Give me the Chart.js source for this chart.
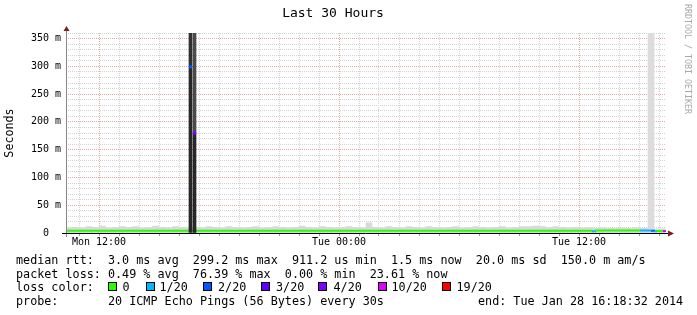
<!DOCTYPE html>
<html><head><meta charset="utf-8">
<script src="https://cdn.jsdelivr.net/npm/chart.js@4.4.1/dist/chart.umd.min.js"></script>
<style>
html,body{margin:0;padding:0;background:#fff;}
#wrap{position:relative;width:697px;height:315px;overflow:hidden;background:#fff;}
#c{position:absolute;left:0;top:0;}
.t{position:absolute;font-family:"DejaVu Sans Mono",monospace;font-size:11.75px;line-height:14px;white-space:pre;color:#000;}
.box{position:absolute;width:7px;height:7px;border:1px solid #000;top:282px;}
#wm{position:absolute;left:683px;top:4px;font-family:"DejaVu Sans Mono",monospace;font-size:8.3px;color:#a8a8a8;writing-mode:vertical-rl;white-space:pre;line-height:10px;}
</style></head>
<body>
<div id="wrap">
<canvas id="c" width="697" height="315"></canvas>
<div id="wm">RRDTOOL / TOBI OETIKER</div>
<div class="t" style="left:16px;top:253px">median rtt:  3.0 ms avg  299.2 ms max  911.2 us min  1.5 ms now  20.0 ms sd  150.0 m am/s</div>
<div class="t" style="left:16px;top:266.5px">packet loss: 0.49 % avg  76.39 % max  0.00 % min  23.61 % now</div>
<div class="t" style="left:16px;top:280px">loss color:</div>
<div id="lossLegend"></div>
<div class="t" style="left:16px;top:293.5px">probe:       20 ICMP Echo Pings (56 Bytes) every 30s</div>
<div class="t" style="left:478px;top:293.5px">end: Tue Jan 28 16:18:32 2014</div>
</div>
<script>
// ---- data (time in minutes since Mon 00:00, values in milliseconds) ----
const axisStartMin = 621;      // Mon 10:21
const axisEndMin = 2421;       // Tue 16:21
const xGridStepMin = 60;
const xMajorTicks = [720, 1440, 2160];
const xTickLabels = ['Mon 12:00', 'Tue 00:00', 'Tue 12:00'];
const yTickValues = [0, 50, 100, 150, 200, 250, 300, 350];
const yTickLabels = ['0  ', '50 m', '100 m', '150 m', '200 m', '250 m', '300 m', '350 m'];

// smoke (upper ping spread) per 20-minute bucket, starting Mon 10:20
const smokeBucketStart = 620;
const smokeBucketMin = 20;
const smokeTop = [
  9,10,11,10,12, 11,13,10,11,12,
  11,12,10,11,13, 11,10,12,11,10,
  11,10,12,11,10, 12,11,10,11,12,
  10,11,12,11,10, 11,13,11,10,12,
  11,10,11,12,11, 10,19,11,10,12,
  11,10,12,11,10, 12,11,10,11,12,
  10,11,12,11,10, 11,12,10,11,12,
  12,13,12,11,12, 11,10,11,10,11,
  9,10,9,9,10, 9,10,9,9,8
];

// median rtt change points
const medTimes  = [620, 2202, 2211, 2343, 2379, 2388, 2394, 2412, 2421];
const medValues = [3.0, 4.0,  3.0,  4.5,  4.5,  4.0,  3.0,  3.5,  3.5];
const medLoss   = [0,   1,    0,    1,    2,    1,    0,    5,    5];

// outage spikes (smoke reaching beyond the graph top)
const spikeTimes   = [994.5, 1006.5];
const spikeMedians = [299.2, 180];
const spikeMax     = [400, 400];
const spikeLoss    = [2, 4];

// light smoke column near the end
const bandTimes = [2376];
const bandMax   = [400];

const lossNames  = ['0', '1/20', '2/20', '3/20', '4/20', '10/20', '19/20'];
const lossColors = ['#26ff00', '#00b8ff', '#0059ff', '#5e00ff', '#7e00ff', '#dd00ff', '#ff0000'];

// ---- loss legend (HTML text) ----
const legendBoxX = [108, 145.5, 203, 261, 318, 377.5, 442];
const legendTextX = [122.5, 159.5, 218, 276, 333.5, 391.5, 456.5];
const ll = document.getElementById('lossLegend');
lossNames.forEach((n, i) => {
  const b = document.createElement('div');
  b.className = 'box'; b.style.left = legendBoxX[i] + 'px'; b.style.background = lossColors[i];
  ll.appendChild(b);
  const t = document.createElement('div');
  t.className = 't'; t.style.left = legendTextX[i] + 'px'; t.style.top = '280px'; t.textContent = n;
  ll.appendChild(t);
});

// ---- build datasets ----
const smokeData = smokeTop.map((v, i) => ({x: smokeBucketStart + i * smokeBucketMin, y: v}));
smokeData.push({x: smokeBucketStart + smokeTop.length * smokeBucketMin, y: smokeTop[smokeTop.length - 1]});
const medData = medTimes.map((t, i) => ({x: t, y: medValues[i]}));

const axisArrows = {
  id: 'axisArrows',
  afterDatasetsDraw(chart) {
    const {ctx, chartArea: a} = chart;
    ctx.save();
    ctx.lineWidth = 1;
    ctx.strokeStyle = '#888';
    ctx.beginPath(); ctx.moveTo(a.left + 0.5, a.bottom + 4); ctx.lineTo(a.left + 0.5, a.top - 4); ctx.stroke();
    ctx.strokeStyle = '#000';
    ctx.beginPath(); ctx.moveTo(a.left - 4, a.bottom + 0.5); ctx.lineTo(a.right + 3, a.bottom + 0.5); ctx.stroke();
    ctx.fillStyle = '#7f1d1d';
    ctx.beginPath(); ctx.moveTo(a.left + 0.5, a.top - 7); ctx.lineTo(a.left - 2.5, a.top - 2); ctx.lineTo(a.left + 3.5, a.top - 2); ctx.closePath(); ctx.fill();
    ctx.beginPath(); ctx.moveTo(a.right + 8, a.bottom + 0.5); ctx.lineTo(a.right + 2, a.bottom - 2.5); ctx.lineTo(a.right + 2, a.bottom + 3.5); ctx.closePath(); ctx.fill();
    ctx.restore();
  }
};

const minorGrid = '#d3d3d3';
const majorGrid = '#e8a6a6';

new Chart(document.getElementById('c'), {
  type: 'line',
  data: {
    datasets: [
      {type: 'line', data: smokeData, stepped: 'after', fill: 'origin', backgroundColor: '#d9d9d9',
       borderWidth: 0, pointRadius: 0, order: 6},
      {type: 'bar', data: bandTimes.map((t, i) => ({x: t, y: [0, bandMax[i]]})), backgroundColor: '#dcdcdc',
       barThickness: 6, grouped: false, borderWidth: 0, order: 5},
      {type: 'line', data: medData, stepped: 'after', borderWidth: 2, pointRadius: 0, fill: false,
       borderColor: lossColors[0], borderCapStyle: 'butt',
       segment: {borderColor: c => lossColors[medLoss[c.p0DataIndex]]}, order: 4},
      {type: 'bar', data: spikeTimes.map((t, i) => ({x: t, y: [0, spikeMedians[i]]})), backgroundColor: '#272727',
       barThickness: 3, grouped: false, borderWidth: 0, order: 3},
      {type: 'bar', data: spikeTimes.map((t, i) => ({x: t, y: [spikeMedians[i], spikeMax[i]]})),
       backgroundColor: ['#303030', '#4a4a4a'], barThickness: 3, grouped: false, borderWidth: 0, order: 2},
      {type: 'scatter', data: spikeTimes.map((t, i) => ({x: t, y: spikeMedians[i]})), showLine: false,
       pointStyle: 'rect', pointRadius: 2.2, borderWidth: 0,
       pointBackgroundColor: spikeLoss.map(l => lossColors[l]), order: 1}
    ]
  },
  options: {
    responsive: false, animation: false, devicePixelRatio: 1,
    layout: {padding: {left: 0, right: 31, top: 0, bottom: 62}},
    plugins: {
      legend: {display: false}, tooltip: {enabled: false},
      title: {display: true, text: 'Last 30 Hours', color: '#000',
              font: {family: 'DejaVu Sans Mono', size: 13, weight: 'normal'},
              padding: {top: 6, bottom: 11.4}}
    },
    scales: {
      x: {
        type: 'linear', min: axisStartMin, max: axisEndMin, offset: false,
        afterFit: s => { s.height = 20; },
        afterBuildTicks: s => {
          const ticks = [];
          for (let v = Math.ceil(s.min / xGridStepMin) * xGridStepMin; v <= s.max; v += xGridStepMin) ticks.push({value: v});
          s.ticks = ticks;
        },
        ticks: {autoSkip: false, maxRotation: 0, minRotation: 0, padding: 0,
                color: '#000', font: {family: 'DejaVu Sans Mono', size: 10},
                callback: v => { const k = xMajorTicks.indexOf(v); return k >= 0 ? xTickLabels[k] : ''; }},
        grid: {offset: false, drawTicks: true, tickLength: 3, tickColor: '#a0a0a0',
               color: c => xMajorTicks.includes(c.tick && c.tick.value) ? majorGrid : minorGrid},
        border: {display: false, dash: [1, 1]}
      },
      y: {
        type: 'linear', min: 0, max: 360,
        afterFit: s => { s.width = 66; },
        title: {display: true, text: 'Seconds', color: '#000', padding: {top: 3, bottom: 0},
                font: {family: 'DejaVu Sans Mono', size: 11.7}},
        ticks: {stepSize: 10, autoSkip: false, padding: 5, color: '#000',
                font: {family: 'DejaVu Sans Mono', size: 10},
                callback: v => { const k = yTickValues.indexOf(v); return k >= 0 ? yTickLabels[k] : ''; }},
        grid: {drawTicks: false,
               color: c => yTickValues.includes(c.tick && c.tick.value) ? majorGrid : minorGrid},
        border: {display: false, dash: [1, 1]}
      }
    }
  },
  plugins: [axisArrows]
});
</script>
</body></html>
